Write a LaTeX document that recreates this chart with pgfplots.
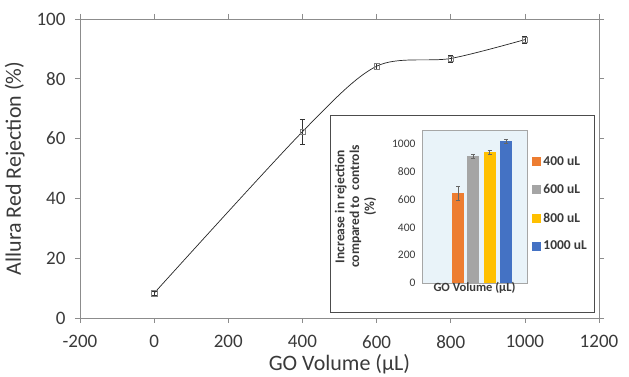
\documentclass[border=0pt]{standalone}
\usepackage{fontspec}
\setmainfont{Carlito}
\usepackage{pgfplots}
\pgfplotsset{compat=1.18}
\definecolor{axgray}{HTML}{8C8C8C}
\definecolor{txt}{HTML}{3A3A3A}
\definecolor{corange}{HTML}{ED7D31}
\definecolor{cgray}{HTML}{A5A5A5}
\definecolor{cgold}{HTML}{FFC000}
\definecolor{cblue}{HTML}{4472C4}
\definecolor{bgblue}{RGB}{233,243,249}
\begin{document}
\begin{tikzpicture}
\path[use as bounding box] (-80pt,-59pt) rectangle (549pt,318pt);
\begin{axis}[
  at={(0pt,0pt)}, anchor=south west, scale only axis,
  width=519pt, height=299pt,
  xmin=-200, xmax=1200, ymin=0, ymax=100,
  xtick={-200,0,200,400,600,800,1000,1200},
  ytick={0,20,40,60,80,100},
  axis line style={axgray},
  tick style={axgray, semithick},
  tick align=outside, major tick length=5pt,
  ticklabel style={font=\fontsize{19}{19}\selectfont, text=txt},
  xticklabel style={yshift=-9pt},
  yticklabel style={xshift=-6pt},
  /pgf/number format/assume math mode=true,
  /pgf/number format/1000 sep={},
  xlabel={GO Volume (μL)},
  ylabel={Allura Red Rejection (\%)},
  label style={font=\fontsize{22}{22}\selectfont, text=txt},
  xlabel style={yshift=1pt},
  ylabel style={yshift=5pt},
]
\addplot[black!85, line width=0.7pt, smooth, tension=0.5,
  mark=square, mark size=2.6pt, mark options={draw=gray, fill=none, solid, thin},
  error bars/.cd, y dir=both, y explicit,
  error bar style={black!80, thin}, error mark options={rotate=90, mark size=2.5pt, black!80}]
  coordinates {
  (0,8.3) +- (0,0.8)
  (400,62.3) +- (0,4.2)
  (600,84.2) +- (0,0.9)
  (800,86.8) +- (0,1.2)
  (1000,93.1) +- (0,1.3)
};
\end{axis}
\draw[black!70, fill=white] (250pt,6pt) rectangle (514pt,203pt);
\begin{axis}[
  at={(342pt,35pt)}, anchor=south west, scale only axis,
  width=105pt, height=153pt,
  xmin=0, xmax=105, ymin=0, ymax=1100,
  xtick=\empty,
  ytick={0,200,400,600,800,1000},
  axis background/.style={fill=bgblue},
  axis line style={black!35},
  tick style={draw=none},
  ticklabel style={font=\fontsize{11.5}{11.5}\selectfont, text=txt},
  yticklabel style={xshift=-3pt},
  /pgf/number format/assume math mode=true,
  /pgf/number format/1000 sep={},
  xlabel={GO Volume (μL)},
  xlabel style={font=\bfseries\fontsize{12.5}{12.5}\selectfont, text=txt, yshift=4pt},
  ylabel={\shortstack{Increase in rejection\\compared to\ \ controls\\(\%)}},
  ylabel style={font=\bfseries\fontsize{13.5}{14}\selectfont, text=txt, yshift=9pt},
  legend style={at={(axis description cs:1.05,0.84)}, anchor=north west,
    draw=none, fill=none, font=\bfseries\fontsize{13.5}{13.5}\selectfont, text=txt,
    row sep=13.5pt, inner sep=0pt},
  legend cell align=left,
  legend image code/.code={\fill[#1] (0pt,-4.5pt) rectangle (9pt,4.5pt);},
]
\addplot[ybar, bar shift=0pt, bar width=12pt, fill=corange, draw=none,
  error bars/.cd, y dir=both, y explicit, error bar style={black!60, thin}, error mark options={rotate=90, mark size=2pt, black!60}]
  coordinates {(36,645) +- (0,50)};
\addlegendentry{400 uL}
\addplot[ybar, bar shift=0pt, bar width=12pt, fill=cgray, draw=none,
  error bars/.cd, y dir=both, y explicit, error bar style={black!60, thin}, error mark options={rotate=90, mark size=2pt, black!60}]
  coordinates {(51,910) +- (0,15)};
\addlegendentry{600 uL}
\addplot[ybar, bar shift=0pt, bar width=12pt, fill=cgold, draw=none,
  error bars/.cd, y dir=both, y explicit, error bar style={black!60, thin}, error mark options={rotate=90, mark size=2pt, black!60}]
  coordinates {(67.5,940) +- (0,15)};
\addlegendentry{800 uL}
\addplot[ybar, bar shift=0pt, bar width=12pt, fill=cblue, draw=none,
  error bars/.cd, y dir=both, y explicit, error bar style={black!60, thin}, error mark options={rotate=90, mark size=2pt, black!60}]
  coordinates {(84,1020) +- (0,15)};
\addlegendentry{1000 uL}
\end{axis}
\end{tikzpicture}
\end{document}
